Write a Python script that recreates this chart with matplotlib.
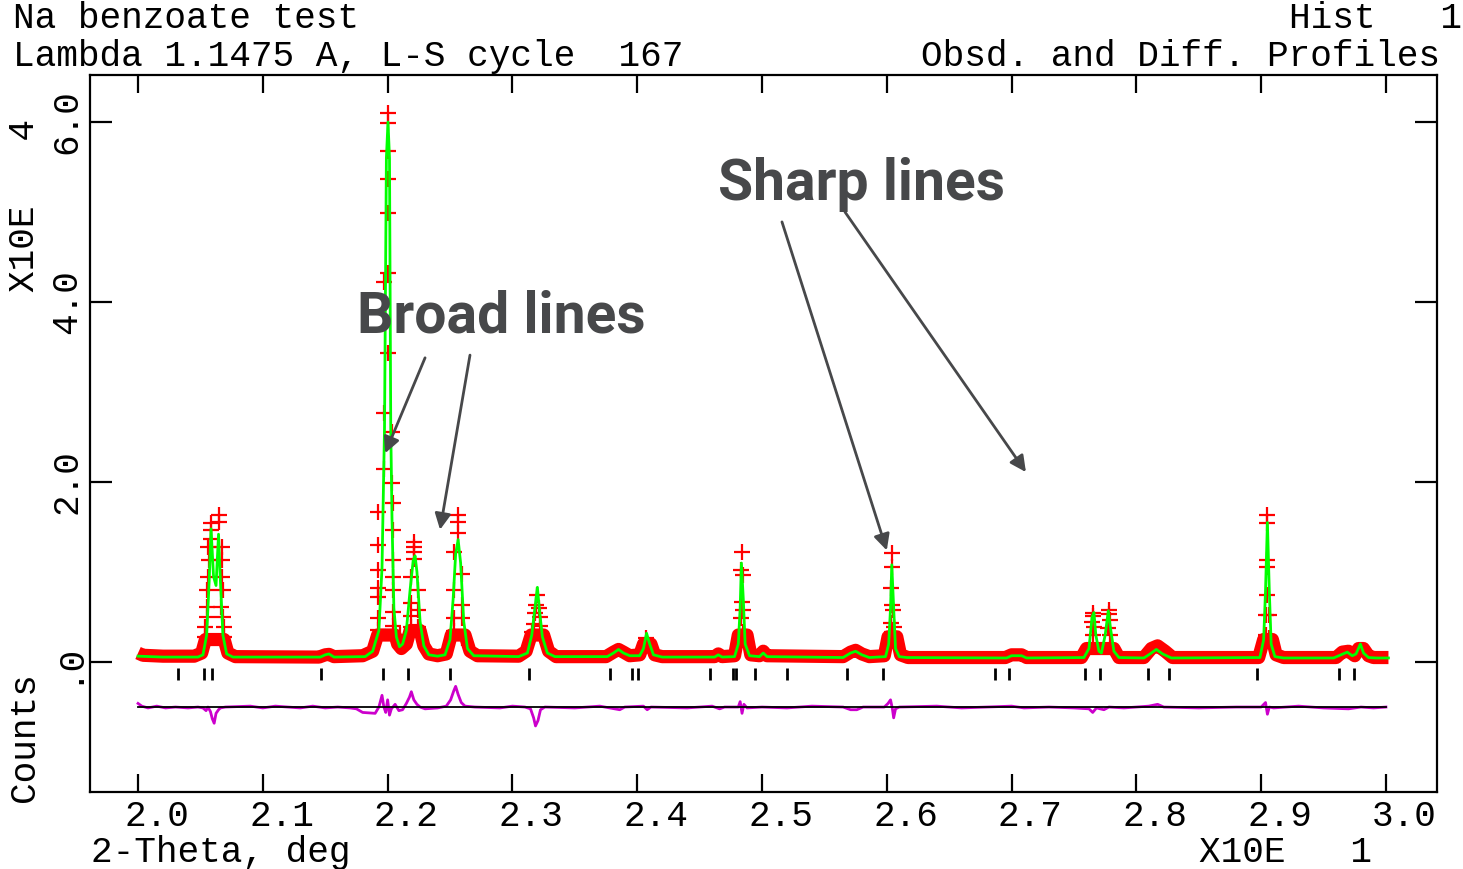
import numpy as np
import matplotlib
matplotlib.use("Agg")
import matplotlib.pyplot as plt

# 2-theta in units of 10 deg, counts in units of 1e4
# red band = dense observed points along the background / peak feet
band_pts = [(2.000, 0.10), (2.004, 0.075), (2.020, 0.065), (2.045, 0.065), (2.051, 0.10),
            (2.054, 0.25), (2.069, 0.25), (2.072, 0.10), (2.078, 0.06),
            (2.145, 0.055), (2.150, 0.08), (2.153, 0.085), (2.157, 0.06),
            (2.180, 0.07), (2.188, 0.12), (2.192, 0.30), (2.206, 0.30), (2.208, 0.20),
            (2.211, 0.15), (2.215, 0.20), (2.218, 0.35), (2.226, 0.35), (2.229, 0.18),
            (2.233, 0.09), (2.240, 0.07), (2.247, 0.09), (2.251, 0.30), (2.262, 0.30),
            (2.266, 0.12), (2.272, 0.07),
            (2.305, 0.065), (2.311, 0.12), (2.315, 0.30), (2.325, 0.30), (2.329, 0.12), (2.335, 0.06),
            (2.375, 0.06), (2.381, 0.11), (2.385, 0.14), (2.389, 0.11), (2.394, 0.07),
            (2.402, 0.08), (2.405, 0.20), (2.411, 0.20), (2.414, 0.08), (2.420, 0.06),
            (2.462, 0.06), (2.465, 0.09), (2.468, 0.06), (2.478, 0.07), (2.481, 0.30),
            (2.488, 0.30), (2.491, 0.08), (2.498, 0.07), (2.501, 0.12), (2.504, 0.07),
            (2.565, 0.06), (2.571, 0.11), (2.575, 0.13), (2.580, 0.09), (2.586, 0.06),
            (2.598, 0.07), (2.601, 0.28), (2.608, 0.28), (2.611, 0.08), (2.617, 0.05),
            (2.695, 0.05), (2.700, 0.08), (2.708, 0.08), (2.712, 0.05),
            (2.756, 0.05), (2.760, 0.15), (2.782, 0.15), (2.786, 0.05),
            (2.806, 0.05), (2.812, 0.15), (2.817, 0.18), (2.823, 0.12), (2.829, 0.05),
            (2.898, 0.05), (2.902, 0.25), (2.909, 0.25), (2.912, 0.08), (2.918, 0.05),
            (2.960, 0.05), (2.965, 0.11), (2.970, 0.12), (2.975, 0.07), (2.978, 0.15),
            (2.982, 0.15), (2.986, 0.07), (2.990, 0.05), (3.002, 0.05)]

# observed points on the peaks (red crosses)
obs_pts = [
    # 2.06 doublet
    (2.0585, 1.54), (2.0585, 1.47), (2.0585, 1.37), (2.065, 1.63), (2.065, 1.56),
    (2.056, 1.28), (2.0565, 1.13), (2.056, 0.95), (2.0555, 0.80), (2.055, 0.61), (2.055, 0.50),
    (2.054, 0.39), (2.054, 0.28), (2.0675, 1.28), (2.067, 1.13), (2.0675, 0.95), (2.068, 0.80),
    (2.0665, 0.61), (2.068, 0.50), (2.069, 0.39), (2.069, 0.28),
    # big peak 2.20
    (2.2003, 6.10), (2.2003, 5.99), (2.2003, 5.68), (2.2003, 5.37), (2.2003, 4.99),
    (2.2003, 4.32), (2.197, 4.22), (2.2003, 3.43), (2.197, 2.77), (2.2035, 2.56),
    (2.197, 2.14), (2.2035, 1.99),
    (2.192, 1.67), (2.192, 1.30), (2.192, 1.02), (2.192, 0.82), (2.192, 0.72), (2.192, 0.49), (2.192, 0.36),
    (2.204, 1.77), (2.204, 1.47), (2.204, 1.13), (2.204, 0.95), (2.204, 0.80), (2.204, 0.56), (2.204, 0.40),
    # 2.222
    (2.2215, 1.33), (2.2215, 1.28), (2.2215, 1.22), (2.2215, 1.15), (2.219, 0.95), (2.219, 0.66),
    (2.219, 0.51), (2.219, 0.39), (2.2245, 0.80), (2.2245, 0.58), (2.2245, 0.39), (2.210, 0.30), (2.211, 0.22),
    # 2.256
    (2.2565, 1.63), (2.2565, 1.56), (2.2565, 1.43), (2.253, 1.22), (2.253, 0.80), (2.253, 0.49),
    (2.253, 0.34), (2.2595, 0.98), (2.2595, 0.63), (2.2595, 0.49), (2.2595, 0.27),
    # 2.32
    (2.3195, 0.74), (2.319, 0.63), (2.3215, 0.60), (2.318, 0.55), (2.322, 0.50), (2.317, 0.42),
    (2.3225, 0.40), (2.316, 0.33), (2.323, 0.32),
    # 2.408
    (2.407, 0.27),
    # 2.484
    (2.484, 1.22), (2.4835, 1.02), (2.4845, 0.97), (2.484, 0.67), (2.485, 0.58), (2.483, 0.49),
    (2.4845, 0.33), (2.486, 0.28),
    # 2.604
    (2.6042, 1.21), (2.6042, 1.06), (2.6035, 0.82), (2.6042, 0.63), (2.605, 0.58), (2.603, 0.43),
    (2.6055, 0.39), (2.604, 0.33),
    # 2.766 / 2.778
    (2.7652, 0.54), (2.7652, 0.51), (2.7645, 0.45), (2.766, 0.39), (2.765, 0.30),
    (2.778, 0.58), (2.778, 0.53), (2.7785, 0.47), (2.777, 0.38), (2.779, 0.30),
    # 2.905
    (2.9046, 1.63), (2.9046, 1.54), (2.9046, 1.13), (2.9046, 1.06), (2.9046, 0.74),
    (2.9035, 0.52), (2.906, 0.52), (2.904, 0.30), (2.906, 0.27)]

# calculated profile (green line)
calc_pts = [(2.000, 0.065), (2.020, 0.055), (2.048, 0.055),
            (2.052, 0.08), (2.055, 0.30), (2.057, 0.90), (2.0585, 1.48), (2.0605, 0.95),
            (2.0625, 0.85), (2.0645, 1.42), (2.066, 0.90), (2.068, 0.30), (2.071, 0.09), (2.076, 0.055),
            (2.146, 0.055), (2.150, 0.08), (2.153, 0.09), (2.157, 0.055),
            (2.182, 0.06), (2.188, 0.12), (2.193, 0.35), (2.1955, 1.05), (2.1975, 2.6),
            (2.199, 5.6), (2.2003, 6.0), (2.2015, 5.6), (2.2025, 2.6), (2.2035, 1.6),
            (2.205, 0.60), (2.207, 0.28), (2.2095, 0.17), (2.212, 0.20), (2.215, 0.35),
            (2.218, 0.80), (2.2205, 1.13), (2.222, 1.18), (2.2235, 1.0), (2.226, 0.45),
            (2.229, 0.18), (2.233, 0.08), (2.240, 0.065), (2.246, 0.08), (2.250, 0.25),
            (2.2525, 0.70), (2.2545, 1.20), (2.2565, 1.36), (2.2585, 1.10), (2.261, 0.45),
            (2.264, 0.15), (2.269, 0.07),
            (2.305, 0.06), (2.312, 0.10), (2.3155, 0.30), (2.318, 0.60), (2.320, 0.83),
            (2.3215, 0.60), (2.324, 0.28), (2.328, 0.10), (2.334, 0.06),
            (2.376, 0.06), (2.381, 0.10), (2.385, 0.14), (2.389, 0.10), (2.394, 0.07),
            (2.402, 0.07), (2.405, 0.15), (2.4075, 0.32), (2.410, 0.20), (2.413, 0.08), (2.420, 0.055),
            (2.462, 0.055), (2.465, 0.08), (2.468, 0.055), (2.478, 0.06), (2.481, 0.20),
            (2.4825, 0.60), (2.4835, 1.10), (2.485, 0.70), (2.4865, 0.20), (2.490, 0.07),
            (2.498, 0.06), (2.501, 0.10), (2.504, 0.06),
            (2.565, 0.05), (2.571, 0.10), (2.575, 0.12), (2.580, 0.08), (2.586, 0.05),
            (2.599, 0.06), (2.6015, 0.20), (2.603, 0.60), (2.604, 1.08), (2.6055, 0.60),
            (2.607, 0.15), (2.610, 0.06), (2.616, 0.05),
            (2.696, 0.045), (2.700, 0.07), (2.708, 0.07), (2.712, 0.045),
            (2.758, 0.05), (2.762, 0.15), (2.7645, 0.50), (2.766, 0.55), (2.7675, 0.30),
            (2.770, 0.12), (2.772, 0.10), (2.775, 0.30), (2.7775, 0.57), (2.779, 0.40),
            (2.782, 0.12), (2.786, 0.05),
            (2.806, 0.045), (2.811, 0.09), (2.816, 0.14), (2.821, 0.09), (2.828, 0.045),
            (2.899, 0.05), (2.902, 0.25), (2.9035, 0.80), (2.905, 1.55), (2.9065, 0.80),
            (2.908, 0.20), (2.911, 0.06), (2.918, 0.045),
            (2.958, 0.045), (2.964, 0.08), (2.969, 0.11), (2.973, 0.07), (2.976, 0.09),
            (2.9795, 0.20), (2.982, 0.10), (2.986, 0.05), (2.992, 0.045), (3.002, 0.045)]

# difference curve, offset to -0.5
diff_pts = [(2.000, -0.46), (2.003, -0.49), (2.008, -0.51), (2.015, -0.49), (2.022, -0.51),
            (2.030, -0.50), (2.040, -0.51), (2.048, -0.50),
            (2.052, -0.51), (2.0545, -0.54), (2.056, -0.50), (2.058, -0.55), (2.0595, -0.63),
            (2.061, -0.68), (2.0625, -0.57), (2.0645, -0.53), (2.066, -0.51), (2.070, -0.50),
            (2.090, -0.49), (2.100, -0.51), (2.110, -0.49), (2.120, -0.50), (2.130, -0.51),
            (2.140, -0.49), (2.150, -0.51), (2.160, -0.50), (2.170, -0.51),
            (2.175, -0.52), (2.180, -0.56), (2.190, -0.57), (2.193, -0.50), (2.1955, -0.37),
            (2.197, -0.50), (2.1985, -0.56), (2.200, -0.42), (2.2015, -0.59), (2.203, -0.52),
            (2.206, -0.47), (2.209, -0.54), (2.212, -0.53), (2.215, -0.46), (2.2175, -0.39),
            (2.219, -0.33), (2.221, -0.42), (2.2235, -0.47), (2.226, -0.50), (2.230, -0.52),
            (2.240, -0.51), (2.247, -0.49), (2.2505, -0.42), (2.253, -0.32), (2.2545, -0.27),
            (2.2565, -0.36), (2.259, -0.45), (2.262, -0.49), (2.270, -0.50),
            (2.290, -0.51), (2.300, -0.49), (2.310, -0.50), (2.3145, -0.52), (2.317, -0.62),
            (2.3185, -0.71), (2.3205, -0.65), (2.3225, -0.53), (2.326, -0.50),
            (2.350, -0.51), (2.370, -0.49), (2.382, -0.52), (2.386, -0.53), (2.390, -0.50),
            (2.405, -0.49), (2.408, -0.53), (2.411, -0.50), (2.440, -0.51), (2.460, -0.49),
            (2.466, -0.52), (2.470, -0.50),
            (2.481, -0.50), (2.4825, -0.44), (2.484, -0.57), (2.4855, -0.47), (2.488, -0.51),
            (2.500, -0.50), (2.520, -0.51), (2.540, -0.49), (2.565, -0.50), (2.571, -0.53),
            (2.576, -0.53), (2.581, -0.50),
            (2.598, -0.50), (2.601, -0.46), (2.603, -0.42), (2.6045, -0.52), (2.6055, -0.62),
            (2.607, -0.52), (2.610, -0.50),
            (2.640, -0.49), (2.660, -0.51), (2.680, -0.50), (2.700, -0.49), (2.710, -0.51),
            (2.730, -0.50), (2.750, -0.51), (2.762, -0.52), (2.765, -0.56), (2.768, -0.51),
            (2.774, -0.53), (2.778, -0.50), (2.790, -0.51), (2.810, -0.49), (2.817, -0.47),
            (2.822, -0.50), (2.850, -0.51), (2.880, -0.50),
            (2.900, -0.50), (2.9035, -0.45), (2.905, -0.58), (2.9065, -0.50), (2.910, -0.51),
            (2.930, -0.49), (2.950, -0.51), (2.970, -0.52), (2.980, -0.50), (2.990, -0.51),
            (3.000, -0.50)]

# reflection positions (tick marks)
refl_pos = [2.032, 2.053, 2.059, 2.147, 2.196, 2.216, 2.250, 2.313, 2.378, 2.396, 2.401,
            2.458, 2.477, 2.479, 2.494, 2.520, 2.568, 2.597, 2.687, 2.698, 2.759, 2.771,
            2.809, 2.826, 2.897, 2.962, 2.974]

xticks = [2.0, 2.1, 2.2, 2.3, 2.4, 2.5, 2.6, 2.7, 2.8, 2.9, 3.0]
xticklabels = ['2.0', '2.1', '2.2', '2.3', '2.4', '2.5', '2.6', '2.7', '2.8', '2.9', '3.0']
yticks = [0.0, 2.0, 4.0, 6.0]
yticklabels = ['.0', '2.0', '4.0', '6.0']

mono = 'Liberation Mono'
fs = 26
ann_col = '#47484a'

fig = plt.figure(figsize=(14.63, 8.69), dpi=100)
ax = fig.add_axes([90/1463, 77/869, 1347/1463, 717/869])

bx, by = zip(*band_pts)
ox, oy = zip(*obs_pts)
cx, cy = zip(*calc_pts)
dx, dy = zip(*diff_pts)

ax.plot(bx, by, color='red', lw=9.5, solid_joinstyle='round', solid_capstyle='butt', zorder=2)
ax.plot(ox, oy, ls='none', marker='+', ms=11, mew=1.6, color='red', zorder=3)
ax.plot(cx, cy, color='#00ff00', lw=2, zorder=4)
ax.vlines(refl_pos, -0.2, -0.07, color='black', lw=2, zorder=3)
ax.plot(dx, dy, color='#cc00cc', lw=2, zorder=3)
ax.plot([2.0, 3.0], [-0.5, -0.5], color='black', lw=1.3, zorder=4)

ax.set_xlim(1.9615, 3.0409)
ax.set_ylim(-1.444, 6.522)
for s in ax.spines.values():
    s.set_linewidth(1.6)
ax.set_xticks(xticks)
ax.set_yticks(yticks)
ax.tick_params(axis='x', direction='in', length=13, width=1.6, top=True, bottom=True,
               labelbottom=False)
ax.tick_params(axis='y', direction='in', length=16, width=1.6, left=True, right=True,
               labelleft=False)

for x, lab in zip(xticks, xticklabels):
    ax.text(x + 0.015, -0.034, lab, transform=ax.get_xaxis_transform(), ha='center',
            va='center', family=mono, fontsize=fs)
for y, lab in zip(yticks, yticklabels):
    ax.text(-0.017, y, lab, transform=ax.get_yaxis_transform(), ha='center', va='center',
            rotation=90, family=mono, fontsize=fs)

fig.text(13/1463, 1 - 18/869, 'Na benzoate test', family=mono, fontsize=fs, va='center')
fig.text(13/1463, 1 - 57/869, 'Lambda 1.1475 A, L-S cycle  167', family=mono, fontsize=fs,
         va='center')
fig.text(1462/1463, 1 - 18/869, 'Hist   1', family=mono, fontsize=fs, va='center', ha='right')
fig.text(1440/1463, 1 - 57/869, 'Obsd. and Diff. Profiles', family=mono, fontsize=fs,
         va='center', ha='right')
fig.text(25/1463, 1 - 205/869, 'X10E   4', family=mono, fontsize=fs, va='center',
         ha='center', rotation=90)
fig.text(25/1463, 1 - 737/869, 'Counts', family=mono, fontsize=fs, va='center',
         ha='center', rotation=90)
fig.text(91/1463, 1 - 853/869, '2-Theta, deg', family=mono, fontsize=fs, va='center')
fig.text(1372/1463, 1 - 853/869, 'X10E   1', family=mono, fontsize=fs, va='center', ha='right')

# annotations
ax.text(2.1755, 3.66, 'Broad lines', family='Roboto', weight='bold', fontsize=41,
        color=ann_col, va='baseline', zorder=6)
ax.text(2.4647, 5.13, 'Sharp lines', family='Roboto', weight='bold', fontsize=41,
        color=ann_col, va='baseline', zorder=6)
arrows = [((2.230, 3.38), (2.198, 2.32)),
          ((2.266, 3.41), (2.242, 1.47)),
          ((2.516, 4.89), (2.600, 1.24)),
          ((2.5665, 5.00), (2.7115, 2.11))]
for start, end in arrows:
    ax.annotate('', xy=end, xytext=start,
                arrowprops=dict(arrowstyle='-|>', color=ann_col, lw=2, mutation_scale=24,
                                shrinkA=0, shrinkB=0), zorder=6)

fig.savefig('out.png', dpi=100)
